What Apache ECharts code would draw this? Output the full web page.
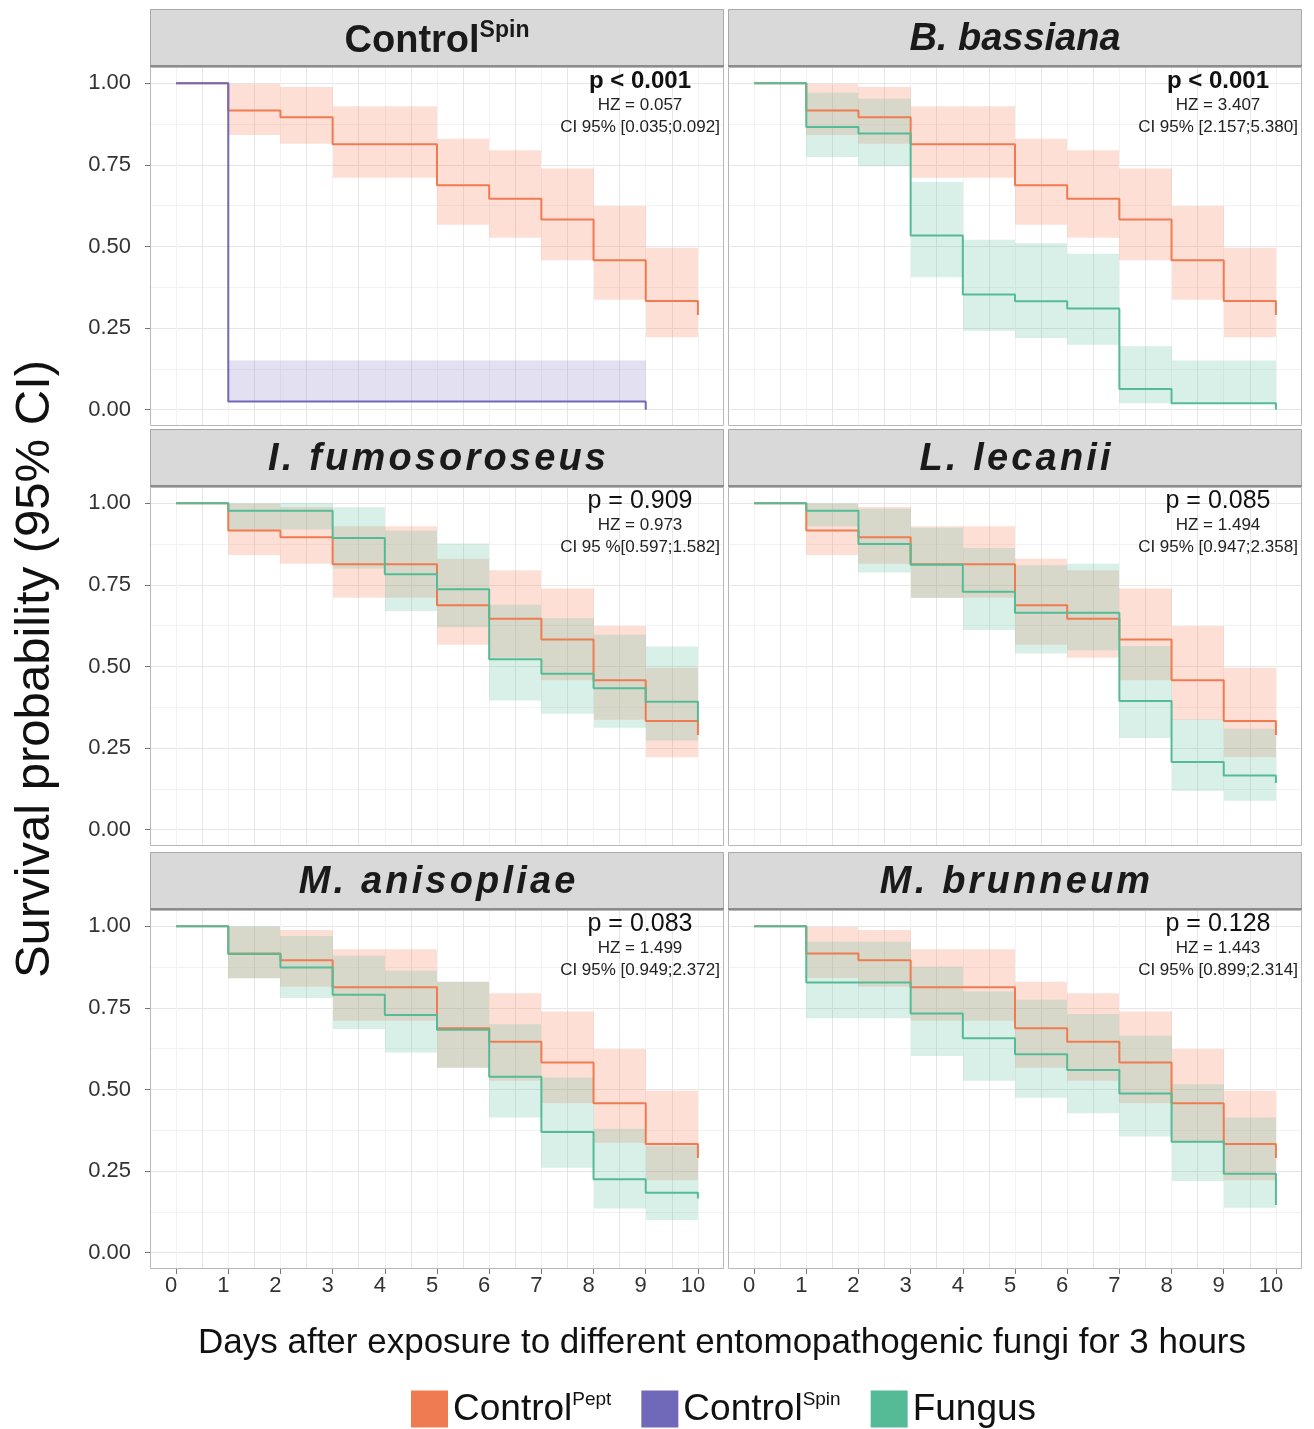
<!DOCTYPE html>
<html>
<head>
<meta charset="utf-8">
<script src="https://cdn.jsdelivr.net/npm/echarts@6/dist/echarts.min.js"></script>
<style>
  html, body { margin: 0; padding: 0; background: #fff; }
  #chart { width: 1314px; height: 1429px; }
</style>
</head>
<body>
<div id="chart"></div>
<script>
// each array: value held on [day, day+1), starting at day 0; "End" = drop at the last day
const peptSurv = [1, 0.917, 0.896, 0.813, 0.813, 0.688, 0.646, 0.583, 0.458, 0.333];
const peptHigh = [1, 0.998, 0.989, 0.930, 0.930, 0.830, 0.795, 0.739, 0.624, 0.496];
const peptLow  = [1, 0.842, 0.815, 0.711, 0.711, 0.567, 0.527, 0.458, 0.337, 0.222];
const peptEnd = 0.29;

const spinSurv = [1, 0.025, 0.025, 0.025, 0.025, 0.025, 0.025, 0.025, 0.025];
const spinHigh = [1, 0.151, 0.151, 0.151, 0.151, 0.151, 0.151, 0.151, 0.151];
const spinLow  = [1, 0.025, 0.025, 0.025, 0.025, 0.025, 0.025, 0.025, 0.025];
const spinEnd = 0.0;

const bassSurv = [1, 0.866, 0.846, 0.534, 0.353, 0.332, 0.310, 0.063, 0.020, 0.020];
const bassHigh = [1, 0.971, 0.953, 0.698, 0.521, 0.510, 0.478, 0.194, 0.151, 0.151];
const bassLow  = [1, 0.774, 0.746, 0.406, 0.242, 0.220, 0.199, 0.020, 0.020, 0.020];
const bassEnd = 0.0;

const fumoSurv = [1, 0.977, 0.977, 0.894, 0.783, 0.737, 0.522, 0.478, 0.433, 0.392];
const fumoHigh = [1, 1.000, 1.000, 0.988, 0.916, 0.877, 0.689, 0.648, 0.597, 0.561];
const fumoLow  = [1, 0.920, 0.920, 0.800, 0.670, 0.620, 0.396, 0.355, 0.312, 0.273];
const fumoEnd = 0.33;

const lecaSurv = [1, 0.977, 0.875, 0.812, 0.729, 0.665, 0.665, 0.394, 0.207, 0.166];
const lecaHigh = [1, 1.000, 0.983, 0.925, 0.863, 0.810, 0.815, 0.563, 0.338, 0.309];
const lecaLow  = [1, 0.930, 0.788, 0.710, 0.612, 0.540, 0.550, 0.281, 0.119, 0.089];
const lecaEnd = 0.143;

const aniSurv = [1, 0.915, 0.874, 0.790, 0.728, 0.683, 0.539, 0.370, 0.225, 0.184];
const aniHigh = [1, 1.000, 0.970, 0.910, 0.864, 0.830, 0.700, 0.537, 0.380, 0.327];
const aniLow  = [1, 0.840, 0.780, 0.685, 0.613, 0.567, 0.414, 0.260, 0.135, 0.100];
const aniEnd = 0.166;

const bruSurv = [1, 0.828, 0.828, 0.733, 0.657, 0.608, 0.560, 0.488, 0.340, 0.242];
const bruHigh = [1, 0.953, 0.953, 0.877, 0.800, 0.775, 0.731, 0.665, 0.516, 0.414];
const bruLow  = [1, 0.718, 0.718, 0.603, 0.527, 0.475, 0.427, 0.356, 0.220, 0.138];
const bruEnd = 0.146;

const panelTitles = [['Control', 'Spin'], ['B. bassiana'], ['I. fumosoroseus'], ['L. lecanii'], ['M. anisopliae'], ['M. brunneum']];
const spacedTitle = [false, false, true, true, true, true];
const pLabels = ['p < 0.001', 'p < 0.001', 'p = 0.909', 'p = 0.085', 'p = 0.083', 'p = 0.128'];
const hzLabels = ['HZ = 0.057', 'HZ = 3.407', 'HZ = 0.973', 'HZ = 1.494', 'HZ = 1.499', 'HZ = 1.443'];
const ciLabels = ['CI 95% [0.035;0.092]', 'CI 95% [2.157;5.380]', 'CI 95 %[0.597;1.582]',
                  'CI 95% [0.947;2.358]', 'CI 95% [0.949;2.372]', 'CI 95% [0.899;2.314]'];

// second curve of each panel (the first one is always ControlPept)
const panelCurves = [
  {name: 'ControlSpin', surv: spinSurv, high: spinHigh, low: spinLow, end: spinEnd},
  {name: 'Fungus', surv: bassSurv, high: bassHigh, low: bassLow, end: bassEnd},
  {name: 'Fungus', surv: fumoSurv, high: fumoHigh, low: fumoLow, end: fumoEnd},
  {name: 'Fungus', surv: lecaSurv, high: lecaHigh, low: lecaLow, end: lecaEnd},
  {name: 'Fungus', surv: aniSurv, high: aniHigh, low: aniLow, end: aniEnd},
  {name: 'Fungus', surv: bruSurv, high: bruHigh, low: bruLow, end: bruEnd}
];

const colors = {ControlPept: '#ee7c50', ControlSpin: '#7068b8', Fungus: '#55bb97'};
const fills = {ControlPept: 'rgba(248,150,120,0.30)', ControlSpin: 'rgba(141,130,200,0.25)', Fungus: 'rgba(102,194,165,0.25)'};

// layout
const colX = [150, 728];
const stripTop = [9, 429, 852];
const panelW = 574, stripH = 58, plotH = 359;
const FONT = 'Liberation Sans, Arial, sans-serif';
const majorC = '#e6e6e6', minorC = '#f2f2f2';

const chart = echarts.init(document.getElementById('chart'));
const option = {
  animation: false,
  textStyle: {fontFamily: FONT},
  grid: [], xAxis: [], yAxis: [], series: [], graphic: []
};

function linePoints(surv, end) {
  const pts = surv.map((v, d) => [d, v]);
  pts.push([surv.length, surv[surv.length - 1]]);
  pts.push([surv.length, end]);
  return pts;
}
// one item per day interval: [from, to, low, high]
function bandItems(low, high) {
  const items = [];
  for (let d = 1; d < low.length; d++) items.push([d, d + 1, low[d], high[d]]);
  return items;
}
function addCurve(name, surv, high, low, end, xi, yi) {
  option.series.push({
    type: 'custom', name: name + ' ci', xAxisIndex: xi, yAxisIndex: yi, z: 2, silent: true, clip: false,
    encode: {x: [0, 1], y: [2, 3]},
    renderItem: function (params, api) {
      const a = api.coord([api.value(0), api.value(3)]);
      const b = api.coord([api.value(1), api.value(2)]);
      const x0 = Math.round(a[0]), x1 = Math.round(b[0]);
      return {type: 'rect', shape: {x: x0, y: a[1], width: x1 - x0, height: b[1] - a[1]},
        style: {fill: fills[name]}};
    },
    data: bandItems(low, high)
  });
  option.series.push({
    type: 'line', name: name, step: 'end', symbol: 'none',
    xAxisIndex: xi, yAxisIndex: yi, z: 4, clip: false,
    itemStyle: {color: colors[name]}, lineStyle: {color: colors[name], width: 2},
    data: linePoints(surv, end)
  });
}

for (let p = 0; p < 6; p++) {
  const r = Math.floor(p / 2), c = p % 2;
  const left = colX[c];
  const plotTop = stripTop[r] + stripH;

  // frame grid: whole panel, vertical grid lines
  option.grid.push({left: left, top: plotTop, width: panelW, height: plotH,
    show: true, backgroundColor: '#fff', borderWidth: 0});
  let g = option.grid.length - 1;
  option.xAxis.push({type: 'value', gridIndex: g, min: -0.5, max: 10.5, interval: 0.5,
    axisLine: {show: false}, axisTick: {show: false}, axisLabel: {show: false},
    splitLine: {show: true, showMinLine: false, showMaxLine: false, lineStyle: {color: [minorC, majorC], width: 1}}});
  option.yAxis.push({type: 'value', gridIndex: g, min: 0, max: 1, show: false});

  // data grid: y 0..1 exactly, horizontal grid lines
  option.grid.push({left: left, top: plotTop + plotH * 0.05 / 1.1, width: panelW, height: plotH / 1.1});
  g = option.grid.length - 1;
  option.xAxis.push({type: 'value', gridIndex: g, min: -0.5, max: 10.5, show: false});
  const xi = option.xAxis.length - 1;
  option.yAxis.push({type: 'value', gridIndex: g, min: 0, max: 1, interval: 0.125,
    axisLine: {show: false}, axisTick: {show: false}, axisLabel: {show: false},
    splitLine: {show: true, lineStyle: {color: [majorC, minorC], width: 1}}});
  const yi = option.yAxis.length - 1;
  if (c === 0) {
    option.yAxis.push({type: 'value', gridIndex: g, min: 0, max: 1, interval: 0.25, position: 'left',
      axisLine: {show: false}, splitLine: {show: false},
      axisTick: {show: true, length: 5, lineStyle: {color: '#777'}},
      axisLabel: {fontSize: 22, color: '#333', margin: 19, fontFamily: FONT, formatter: v => v.toFixed(2)}});
  }

  // tick labels for the bottom row: days 0..10
  if (r === 2) {
    option.grid.push({left: left + panelW * 0.5 / 11, top: plotTop, width: panelW * 10 / 11, height: plotH});
    g = option.grid.length - 1;
    option.xAxis.push({type: 'value', gridIndex: g, min: 0, max: 10, interval: 1, position: 'bottom',
      axisLine: {show: false}, splitLine: {show: false},
      axisTick: {show: true, length: 5, lineStyle: {color: '#777'}},
      axisLabel: {fontSize: 22, color: '#333', margin: 6, padding: [0, 10, 0, 0], fontFamily: FONT}});
    option.yAxis.push({type: 'value', gridIndex: g, min: 0, max: 1, show: false});
  }

  addCurve('ControlPept', peptSurv, peptHigh, peptLow, peptEnd, xi, yi);
  const cv = panelCurves[p];
  addCurve(cv.name, cv.surv, cv.high, cv.low, cv.end, xi, yi);

  // panel border
  option.graphic.push({type: 'rect', z: 100, silent: true,
    shape: {x: left + 0.5, y: plotTop + 0.5, width: panelW - 1, height: plotH - 1},
    style: {fill: 'none', stroke: '#b8b8b8', lineWidth: 1}});
  // strip
  option.graphic.push({type: 'rect', z: 100, silent: true,
    shape: {x: left + 0.5, y: stripTop[r] + 0.5, width: panelW - 1, height: stripH - 1},
    style: {fill: '#d9d9d9', stroke: '#a8a8a8', lineWidth: 1}});
  option.graphic.push({type: 'rect', z: 101, silent: true,
    shape: {x: left, y: stripTop[r] + stripH - 2, width: panelW, height: 2},
    style: {fill: '#8c8c8c'}});
  const t = panelTitles[p];
  const titleText = spacedTitle[p] ? t[0].split('').join('\u200A') : t[0];
  option.graphic.push({type: 'text', z: 102, silent: true,
    x: left + panelW / 2, y: stripTop[r] + stripH / 2 + 2,
    style: {
      text: t.length > 1 ? '{m|' + t[0] + '}{s|' + t[1] + '}' : '{i|' + titleText + '}',
      align: 'center', verticalAlign: 'middle', fill: '#1a1a1a',
      rich: {
        m: {fontSize: 38, fontWeight: 'bold', fontFamily: FONT, lineHeight: 42, verticalAlign: 'bottom'},
        s: {fontSize: 23, fontWeight: 'bold', fontFamily: FONT, lineHeight: 24, verticalAlign: 'top'},
        i: {fontSize: 38, fontWeight: 'bold', fontStyle: 'italic', fontFamily: FONT, lineHeight: 42}
      }
    }});

  // statistics text
  const cx = left + 490;
  option.graphic.push({type: 'text', z: 102, silent: true, x: cx, y: plotTop + 14,
    style: {text: pLabels[p], align: 'center', verticalAlign: 'middle', fill: '#111',
      font: (p < 2 ? 'bold 24px ' : '25px ') + FONT}});
  option.graphic.push({type: 'text', z: 102, silent: true, x: cx, y: plotTop + 38,
    style: {text: hzLabels[p], align: 'center', verticalAlign: 'middle', fill: '#222', font: '17px ' + FONT}});
  option.graphic.push({type: 'text', z: 102, silent: true, x: cx, y: plotTop + 60,
    style: {text: ciLabels[p], align: 'center', verticalAlign: 'middle', fill: '#222', font: '17px ' + FONT}});
}

// axis titles
option.graphic.push({type: 'text', z: 102, silent: true, x: 722, y: 1343,
  style: {text: 'Days after exposure to different entomopathogenic fungi for 3 hours',
    align: 'center', verticalAlign: 'middle', fill: '#111', font: '35px ' + FONT}});
option.graphic.push({type: 'text', z: 102, silent: true, x: 35, y: 669, rotation: Math.PI / 2,
  style: {text: 'Survival probability (95% CI)',
    align: 'center', verticalAlign: 'middle', fill: '#111', font: '49px ' + FONT}});

option.legend = {
  data: ['ControlPept', 'ControlSpin', 'Fungus'],
  left: 406, top: 1385, icon: 'rect', itemWidth: 37, itemHeight: 37, itemGap: 30,
  selectedMode: false,
  formatter: function (name) {
    if (name === 'ControlPept') return '{m|Control}{s|Pept}';
    if (name === 'ControlSpin') return '{m|Control}{s|Spin}';
    return '{m|' + name + '}';
  },
  textStyle: {
    color: '#111', fontFamily: FONT,
    rich: {
      m: {fontSize: 37, fontFamily: FONT, lineHeight: 38, verticalAlign: 'bottom', color: '#111'},
      s: {fontSize: 19, fontFamily: FONT, lineHeight: 20, verticalAlign: 'top', color: '#111'}
    }
  }
};

chart.setOption(option);
</script>
</body>
</html>
